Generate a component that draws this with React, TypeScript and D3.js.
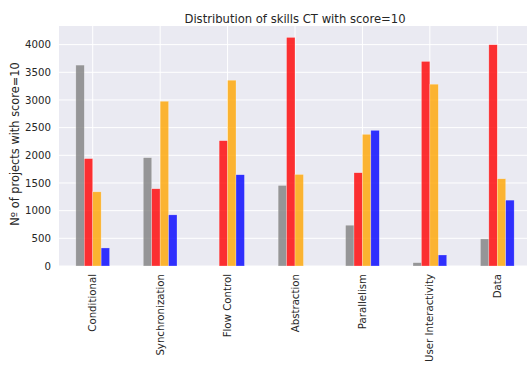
import React, { useEffect, useRef } from "react";
import * as d3 from "d3";

const categories = [
  "Conditional",
  "Synchronization",
  "Flow Control",
  "Abstraction",
  "Parallelism",
  "User Interactivity",
  "Data",
];
const seriesNames = ["s0", "s1", "s2", "s3"];
const grayValues = [3630, 1957, 0, 1455, 737, 60, 489];
const redValues = [1940, 1395, 2264, 4130, 1685, 3696, 3998];
const orangeValues = [1340, 2977, 3357, 1654, 2379, 3285, 1576];
const blueValues = [326, 924, 1649, 0, 2451, 199, 1190];
const yTicks = [0, 500, 1000, 1500, 2000, 2500, 3000, 3500, 4000];
const colors = ["#808080", "#ff0000", "#ffa500", "#0000ff"];

const W = 527;
const H = 365;

const App: React.FC = () => {
  const svgRef = useRef<SVGSVGElement>(null);

  useEffect(() => {
    if (!svgRef.current) return;
    const marginLeft = 59;
    const marginTop = 26;
    const plotRight = 531;
    const plotBottom = 266;

    const svg = d3.select(svgRef.current);
    svg.selectAll("*").remove();

    const x = d3.scaleLinear().domain([-0.5, categories.length - 0.5]).range([marginLeft, plotRight]);
    const maxV = d3.max([grayValues, redValues, orangeValues, blueValues].flat()) as number;
    const y = d3.scaleLinear().domain([0, maxV * 1.05]).range([plotBottom, marginTop]);

    const font = "DejaVu Sans, sans-serif";
    const textColor = "#262626";

    // background
    svg.append("rect")
      .attr("x", marginLeft)
      .attr("y", marginTop)
      .attr("width", plotRight - marginLeft)
      .attr("height", plotBottom - marginTop)
      .attr("fill", "#eaeaf2");

    // grid
    svg.append("g")
      .selectAll("line")
      .data(yTicks)
      .join("line")
      .attr("x1", marginLeft)
      .attr("x2", plotRight)
      .attr("y1", (d) => y(d))
      .attr("y2", (d) => y(d))
      .attr("stroke", "white")
      .attr("stroke-width", 1);
    svg.append("g")
      .selectAll("line")
      .data(categories)
      .join("line")
      .attr("x1", (_, i) => x(i))
      .attr("x2", (_, i) => x(i))
      .attr("y1", marginTop)
      .attr("y2", plotBottom)
      .attr("stroke", "white")
      .attr("stroke-width", 1);

    // bars
    const series = [grayValues, redValues, orangeValues, blueValues];
    const barW = 0.125;
    series.forEach((vals, s) => {
      svg.append("g")
        .attr("class", seriesNames[s])
        .selectAll("rect")
        .data(vals)
        .join("rect")
        .attr("x", (_, i) => x(i - 0.25 + s * barW))
        .attr("width", x(barW) - x(0))
        .attr("y", (d) => y(d))
        .attr("height", (d) => y(0) - y(d))
        .attr("fill", colors[s])
        .attr("fill-opacity", 0.8)
        .attr("stroke", "white")
        .attr("stroke-opacity", 0.5)
        .attr("stroke-width", 0.5);
    });

    // y tick labels
    svg.append("g")
      .selectAll("text")
      .data(yTicks)
      .join("text")
      .attr("x", marginLeft - 8)
      .attr("y", (d) => y(d))
      .attr("dy", "0.35em")
      .attr("text-anchor", "end")
      .attr("font-family", font)
      .attr("font-size", 10.2)
      .attr("fill", textColor)
      .text((d) => d);

    // x tick labels
    svg.append("g")
      .selectAll("text")
      .data(categories)
      .join("text")
      .attr("transform", (_, i) => `translate(${x(i)},${plotBottom + 8}) rotate(-90)`)
      .attr("dy", "0.35em")
      .attr("text-anchor", "end")
      .attr("font-family", font)
      .attr("font-size", 10.2)
      .attr("fill", textColor)
      .text((d) => d);

    // y label
    svg.append("text")
      .attr("transform", `translate(15,${(marginTop + plotBottom) / 2 - 2}) rotate(-90)`)
      .attr("dy", "0.35em")
      .attr("text-anchor", "middle")
      .attr("font-family", font)
      .attr("font-size", 11.4)
      .attr("fill", textColor)
      .text("Nº of projects with score=10");

    // title
    svg.append("text")
      .attr("x", (marginLeft + plotRight) / 2)
      .attr("y", 22.5)
      .attr("text-anchor", "middle")
      .attr("font-family", font)
      .attr("font-size", 11.6)
      .attr("fill", textColor)
      .text("Distribution of skills CT with score=10");
  }, []);

  return (
    <svg
      ref={svgRef}
      width={W}
      height={H}
      style={{ position: "absolute", left: 0, top: 0, background: "white" }}
    />
  );
};

export default App;
